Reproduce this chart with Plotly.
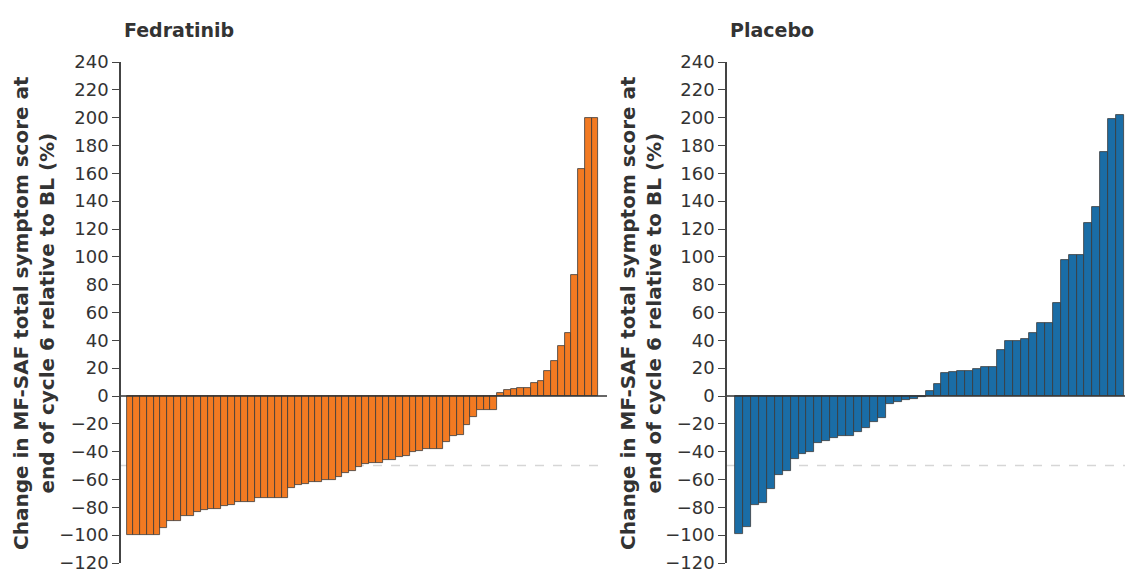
import plotly.graph_objects as go

# ---- data ----
fed_patients = list(range(1, 71))
fed_values = [-100, -100, -100, -100, -100, -95, -90, -90, -86, -86,
              -83, -82, -81, -81, -79, -78, -76, -76, -76, -73,
              -73, -73, -73, -73, -66, -64, -63, -61.5, -61.5, -60,
              -60, -58, -55, -54, -51, -49, -48, -48, -46, -46,
              -44, -43, -40.5, -39.5, -38, -38, -38, -33, -29, -28,
              -21, -15, -10, -10, -10,
              2.4, 4, 5, 6, 6, 9.5, 11, 18, 25, 35.6, 45, 87, 163, 200, 200]
pbo_patients = list(range(1, 50))
pbo_values = [-99, -94, -78.5, -77, -67, -56.5, -54, -45, -42, -40,
              -34, -32, -30, -29, -28.7, -26, -23, -18.5, -16, -6,
              -4, -3, -2, -0.7,
              3.6, 8.8, 16.6, 17.3, 17.8, 17.8, 19.7, 21, 21, 33,
              39.6, 39.6, 41, 45, 52.4, 52.4, 67, 98, 101, 101,
              124, 136, 175.5, 199, 201.6]
y_ticks = list(range(-120, 241, 20))
panel_titles = ["Fedratinib", "Placebo"]
y_title = "Change in MF-SAF total symptom score at<br>end of cycle 6 relative to BL (%)"
threshold = -50

W, H = 1125, 576
FONT = "DejaVu Sans, Verdana, sans-serif"
ORANGE = "#F27A22"
BLUE = "#1A6DA6"
EDGE = "#3a3a3a"

fig = go.Figure()
fig.add_trace(go.Bar(x=[p - 1 for p in fed_patients], y=fed_values,
                     marker=dict(color=ORANGE, line=dict(color=EDGE, width=0.8)),
                     xaxis="x", yaxis="y", showlegend=False, hoverinfo="skip"))
fig.add_trace(go.Bar(x=[p - 1 for p in pbo_patients], y=pbo_values,
                     marker=dict(color=BLUE, line=dict(color=EDGE, width=0.8)),
                     xaxis="x2", yaxis="y2", showlegend=False, hoverinfo="skip"))

y_top, y_bot = 62, 563
ydom = [1 - y_bot / H, 1 - y_top / H]

yax = dict(range=[-120, 240], tickvals=y_ticks, ticks="outside", ticklen=7,
           tickwidth=1.3, tickcolor="#444", showline=True, linecolor="#444",
           linewidth=1.5, showgrid=False, zeroline=False, automargin=False,
           ticklabeloverflow="allow",
           tickfont=dict(family=FONT, size=18, color="#333"), domain=ydom)
xax = dict(showticklabels=False, ticks="", showline=False, showgrid=False,
           zeroline=False, automargin=False)

fig.update_layout(
    width=W, height=H,
    margin=dict(l=0, r=0, t=0, b=0, autoexpand=False),
    paper_bgcolor="white", plot_bgcolor="white",
    bargap=0,
    xaxis=dict(xax, domain=[121 / W, 607 / W], range=[-1.35, 70.8]),
    yaxis=dict(yax, anchor="x"),
    xaxis2=dict(xax, domain=[727 / W, 1.0], range=[-1.5, 48.6]),
    yaxis2=dict(yax, anchor="x2"),
)

# threshold dashed line and zero line
for xr, yr in (("x", "y"), ("x2", "y2")):
    fig.add_shape(type="line", xref=f"{xr} domain", yref=yr, x0=0, x1=1,
                  y0=threshold, y1=threshold, layer="below",
                  line=dict(color="#d6d6d6", width=1.5, dash="dash"))
    fig.add_shape(type="line", xref=f"{xr} domain", yref=yr, x0=0, x1=1,
                  y0=0, y1=0, layer="above",
                  line=dict(color="#333", width=1.5))

# titles
for tx, t in zip((122, 728), panel_titles):
    fig.add_annotation(text=f"<b>{t}</b>", x=tx / W, y=1 - 30 / H, xref="paper",
                       yref="paper", xanchor="left", yanchor="middle",
                       showarrow=False, font=dict(family=FONT, size=19, color="#333"))

for cx in (34, 641):
    fig.add_annotation(text=f"<b>{y_title}</b>", x=cx / W, y=1 - 313 / H,
                       xref="paper", yref="paper", xanchor="center",
                       yanchor="middle", textangle=-90, showarrow=False,
                       font=dict(family=FONT, size=20, color="#333"))

fig.write_html("out.html", config={"displayModeBar": False},
               post_script="document.body.style.margin='0';"
                           "document.body.style.overflow='hidden';")
